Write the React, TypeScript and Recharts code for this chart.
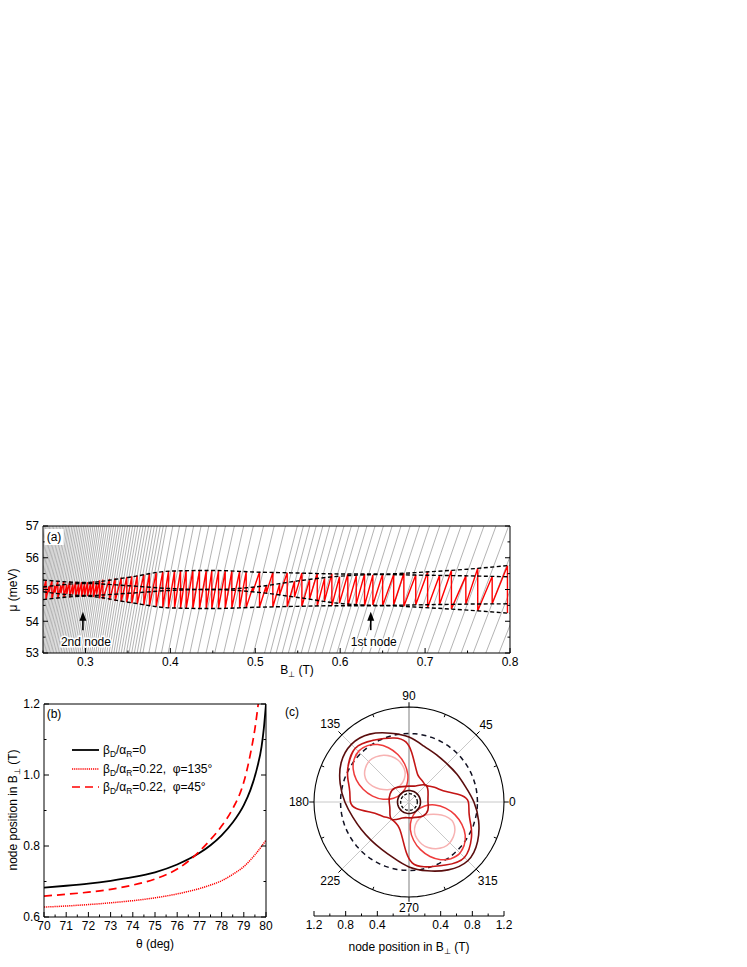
import React from 'react'
import { LineChart, Line, XAxis, YAxis, ReferenceLine, ReferenceDot } from 'recharts'

const FONT = '"Liberation Sans", Arial, Helvetica, sans-serif'

// ---------- panel (a): chemical potential vs perpendicular field ----------
// B (T) at which each Landau level (grey fan line through the origin) crosses mu = 55 meV
const levelB = [
  0.8167, 0.8006, 0.7852, 0.7704, 0.7561, 0.7424, 0.7291, 0.7163, 0.704, 0.692, 0.6805, 0.6693, 0.6585,
  0.6481, 0.638, 0.6281, 0.6186, 0.6094, 0.6004, 0.5917, 0.5833, 0.575, 0.5671, 0.5593, 0.5517, 0.5444,
  0.5372, 0.5302, 0.5168, 0.504, 0.4919, 0.4803, 0.4693, 0.4587, 0.4486, 0.439, 0.4297, 0.4209, 0.4124,
  0.4042, 0.3964, 0.3888, 0.3815, 0.378, 0.3745, 0.3711, 0.3678, 0.3645, 0.3613, 0.3581,
  0.355, 0.3519, 0.3489, 0.346, 0.3431, 0.3402, 0.3374, 0.3346, 0.3319, 0.3292, 0.3266, 0.324, 0.3214,
  0.3189, 0.3165, 0.314, 0.3116, 0.3093, 0.3069, 0.3046, 0.3024, 0.3002, 0.298, 0.2958, 0.2937, 0.2916,
  0.2895, 0.2875, 0.2855, 0.2835, 0.2815, 0.2796, 0.2777, 0.2758, 0.274, 0.2721, 0.2703, 0.2686, 0.2668,
  0.2651, 0.2634, 0.2617, 0.26, 0.2584, 0.2567, 0.2551, 0.2535, 0.252, 0.2504, 0.2489, 0.2474, 0.2459,
  0.2444, 0.243,
]
const levelMu = [53, 55, 57]

// sawtooth of mu: B of each drop, value just before and just after the drop
const muStart = { b: 0.25, mu: 54.95 }
const toothB = [
  0.2535, 0.257, 0.2605, 0.264, 0.2675, 0.271, 0.2745, 0.278, 0.2815, 0.285, 0.2885, 0.292, 0.2955, 0.299,
  0.3025, 0.306, 0.3095, 0.313, 0.3165,
  0.3205, 0.3283, 0.335, 0.3421, 0.3487, 0.3546, 0.3609, 0.3688, 0.3754, 0.3833, 0.3911, 0.3978, 0.4049,
  0.412, 0.4186, 0.4265, 0.4343, 0.4422, 0.4488, 0.4567, 0.4646, 0.4724, 0.4815,
  0.4893, 0.4971, 0.505, 0.5129, 0.5207, 0.5286, 0.5376, 0.5462, 0.5549, 0.5639, 0.573, 0.5816, 0.5902,
  0.5992, 0.609, 0.6189, 0.6287, 0.6385, 0.65, 0.663, 0.675, 0.689, 0.703, 0.717, 0.731, 0.748, 0.762,
  0.779, 0.797,
]
const toothHigh = [
  55.29, 55.1, 55.28, 55.12, 55.27, 55.13, 55.26, 55.15, 55.25, 55.16, 55.24, 55.18, 55.23, 55.2, 55.23,
  55.2, 55.26, 55.18, 55.29,
  55.31, 55.33, 55.35, 55.37, 55.39, 55.41, 55.44, 55.47, 55.5, 55.53, 55.56, 55.58, 55.59, 55.6, 55.6,
  55.6, 55.6, 55.59, 55.59, 55.59, 55.58, 55.58, 55.57,
  55.56, 55.07, 55.55, 55.12, 55.54, 55.17, 55.53, 55.26, 55.52, 55.31, 55.51, 55.35, 55.5, 55.4, 55.49,
  55.43, 55.49, 55.46, 55.49, 55.47, 55.51, 55.46, 55.55, 55.45, 55.6, 55.43, 55.67, 55.41, 55.75,
]
const toothLow = [
  54.69, 54.92, 54.7, 54.9, 54.72, 54.88, 54.73, 54.86, 54.75, 54.85, 54.77, 54.83, 54.78, 54.81, 54.79,
  54.82, 54.76, 54.84, 54.72,
  54.7, 54.67, 54.64, 54.62, 54.6, 54.57, 54.54, 54.51, 54.48, 54.46, 54.44, 54.42, 54.41, 54.41, 54.4,
  54.4, 54.4, 54.4, 54.4, 54.41, 54.41, 54.42, 54.42,
  54.43, 54.93, 54.44, 54.88, 54.45, 54.83, 54.46, 54.76, 54.47, 54.7, 54.48, 54.64, 54.49, 54.57, 54.49,
  54.53, 54.49, 54.51, 54.49, 54.52, 54.47, 54.52, 54.43, 54.53, 54.39, 54.54, 54.33, 54.55, 54.26,
]

// beating envelopes (dashed)
const envB = [0.25, 0.3, 0.35, 0.4, 0.45, 0.5, 0.55, 0.6, 0.65, 0.7, 0.75, 0.8]
const envOuterHigh = [55.3, 55.22, 55.38, 55.58, 55.6, 55.55, 55.52, 55.49, 55.49, 55.55, 55.64, 55.76]
const envInnerHigh = [55.08, 55.19, 55.12, 55.03, 55.0, 55.08, 55.27, 55.42, 55.47, 55.45, 55.43, 55.4]
const envInnerLow = [54.93, 54.81, 54.88, 54.97, 55.0, 54.92, 54.75, 54.56, 54.5, 54.52, 54.54, 54.55]
const envOuterLow = [54.68, 54.79, 54.6, 54.42, 54.4, 54.44, 54.47, 54.49, 54.49, 54.43, 54.35, 54.25]

const nodeB = [0.297, 0.636]
const nodeText = ['2nd node', '1st node']
const nodeArrowMu = [53.72, 54.3]
const nodeTextMu = 53.35

const aXMajor = [0.3, 0.4, 0.5, 0.6, 0.7, 0.8]
const aXMinor = [0.25, 0.35, 0.45, 0.55, 0.65, 0.75]
const aYMajor = [53, 54, 55, 56, 57]
const aYMinor = [53.5, 54.5, 55.5, 56.5]

// ---------- panel (b): node position vs tilt angle ----------
const thetaBlack = [70, 71, 72, 73, 74, 75, 76, 77, 77.5, 78, 78.5, 79, 79.3, 79.6, 79.8, 79.9, 80]
const nodeBlack = [0.683, 0.688, 0.694, 0.702, 0.712, 0.726, 0.748, 0.78, 0.802, 0.83, 0.866, 0.915, 0.958, 1.02, 1.08, 1.13, 1.2]
const theta45 = [70, 71, 72, 73, 74, 75, 76, 76.5, 77, 77.5, 78, 78.5, 79, 79.3, 79.5, 79.65]
const node45 = [0.659, 0.664, 0.67, 0.678, 0.69, 0.707, 0.735, 0.757, 0.785, 0.818, 0.856, 0.905, 0.98, 1.06, 1.13, 1.2]
const theta135 = [70, 71, 72, 73, 74, 75, 76, 77, 77.5, 78, 78.5, 79, 79.5, 80]
const node135 = [0.628, 0.631, 0.635, 0.64, 0.646, 0.654, 0.665, 0.68, 0.69, 0.702, 0.72, 0.742, 0.775, 0.816]

const legendRatio = ['0', '0.22', '0.22']
const legendPhi = ['', '135°', '45°']

const bXMajor = [70, 71, 72, 73, 74, 75, 76, 77, 78, 79, 80]
const bXMinor = [70.5, 71.5, 72.5, 73.5, 74.5, 75.5, 76.5, 77.5, 78.5, 79.5]
const bYMajor = [0.6, 0.8, 1.0, 1.2]
const bYMinor = [0.7, 0.9, 1.1]

// ---------- panel (c): polar map of node position ----------
const brownAngle = [45, 60, 75, 90, 105, 120, 135, 150, 165, 180, 195, 210, 225, 240, 255, 270, 285, 300, 315, 330, 345, 0, 15, 30]
const brownR = [0.68, 0.69, 0.73, 0.82, 0.9, 0.99, 1.03, 0.99, 0.9, 0.81, 0.735, 0.695, 0.68, 0.69, 0.735, 0.82, 0.9, 0.99, 1.05, 1.0, 0.91, 0.82, 0.74, 0.7]

const peanutAngle = [135, 150, 160, 170, 180, 187, 195, 202, 210, 217, 225, 235, 245, 252, 260, 267, 273, 283, 300, 315, 330, 340, 350, 0, 7, 15, 22, 30, 37, 45, 55, 65, 72, 80, 87, 93, 103, 120]
const peanutR = [0.96, 0.89, 0.82, 0.76, 0.74, 0.67, 0.5, 0.42, 0.37, 0.33, 0.31, 0.31, 0.33, 0.37, 0.47, 0.64, 0.77, 0.84, 0.92, 0.99, 0.91, 0.83, 0.77, 0.75, 0.67, 0.5, 0.42, 0.37, 0.33, 0.3, 0.31, 0.33, 0.36, 0.46, 0.63, 0.76, 0.83, 0.9]

const eyeAngle = [90, 112, 135, 157, 180, 202, 225, 247, 270, 292, 315, 337, 0, 22, 45, 67]
const eyeR = [0.2, 0.21, 0.25, 0.26, 0.25, 0.26, 0.31, 0.22, 0.2, 0.21, 0.25, 0.26, 0.24, 0.26, 0.3, 0.22]

// lobes given as (x, y) components in T
const redLobeUpper = [
  [-0.629, 0.649], [-0.524, 0.712], [-0.395, 0.725], [-0.26, 0.685], [-0.141, 0.599], [-0.055, 0.48], [-0.015, 0.345], [-0.028, 0.216],
  [-0.091, 0.111], [-0.196, 0.048], [-0.325, 0.035], [-0.46, 0.075], [-0.579, 0.161], [-0.665, 0.28], [-0.705, 0.415], [-0.692, 0.544],
]
const redLobeLower = [
  [0.635, -0.655], [0.53, -0.716], [0.4, -0.728], [0.265, -0.688], [0.145, -0.602], [0.058, -0.483], [0.017, -0.347], [0.03, -0.218],
  [0.093, -0.113], [0.198, -0.05], [0.327, -0.037], [0.462, -0.077], [0.582, -0.163], [0.668, -0.283], [0.71, -0.418], [0.697, -0.548],
]
const pinkLobeUpper = [
  [-0.32, 0.59], [-0.22, 0.575], [-0.14, 0.53], [-0.08, 0.46], [-0.05, 0.38], [-0.06, 0.29], [-0.11, 0.21], [-0.18, 0.17],
  [-0.27, 0.155], [-0.37, 0.165], [-0.46, 0.2], [-0.53, 0.26], [-0.56, 0.34], [-0.55, 0.43], [-0.5, 0.52], [-0.42, 0.57],
]
const pinkLobeLower = [
  [0.34, -0.59], [0.44, -0.57], [0.51, -0.52], [0.56, -0.44], [0.58, -0.35], [0.56, -0.26], [0.5, -0.2], [0.41, -0.165],
  [0.31, -0.155], [0.21, -0.165], [0.13, -0.21], [0.08, -0.29], [0.07, -0.38], [0.1, -0.46], [0.16, -0.53], [0.24, -0.575],
]

const ringOuter = 1.2
const ringIsotropic = 0.865
const ringCenterDashed = 0.105
const ringCenterSolid = 0.145

const gridAngles = [0, 45, 90, 135, 180, 225, 270, 315]
const minorAngles = [22.5, 67.5, 112.5, 157.5, 202.5, 247.5, 292.5, 337.5]
const cXMajor = [-1.2, -0.8, -0.4, 0.4, 0.8, 1.2]
const cXMinor = [-1.0, -0.6, -0.2, 0, 0.2, 0.6, 1.0]

// ---------- helpers ----------
const rad = (a: number) => (a * Math.PI) / 180
const ringSteps = Array.from({ length: 73 }, (_, i) => i * 5)
const ring = (r: number) => ringSteps.map((a) => ({ x: r * Math.cos(rad(a)), y: r * Math.sin(rad(a)) }))
// wrap one point on each side so the spline closes smoothly
const wrap = (pts: { x: number; y: number }[]) => [pts[pts.length - 1], ...pts, pts[0], pts[1]]
const polarPts = (angles: number[], radii: number[]) =>
  wrap(angles.map((a, i) => ({ x: radii[i] * Math.cos(rad(a)), y: radii[i] * Math.sin(rad(a)) })))
const xyPts = (list: number[][]) => wrap(list.map(([x, y]) => ({ x, y })))
const sortNum = (a: number[]) => [...a].sort((p, q) => p - q)

type Side = 'bottom' | 'top' | 'left' | 'right'
const tickText = { fontFamily: FONT, fontSize: 12, fill: '#000' }

function edgeTick(side: Side, major: number[], fmt?: (v: number) => string) {
  return (p: any) => {
    const v = Number(p.payload.value)
    const isMajor = major.some((m) => Math.abs(m - v) < 1e-6)
    const len = isMajor ? 5 : 2.5
    const { x, y } = p
    let line: React.ReactNode = null
    let label: React.ReactNode = null
    if (side === 'bottom') {
      line = <line x1={x} y1={y} x2={x} y2={y - len} stroke="#000" />
      if (fmt && isMajor)
        label = <text x={x} y={y + 4} dy="0.78em" textAnchor="middle" {...tickText}>{fmt(v)}</text>
    } else if (side === 'top') {
      line = <line x1={x} y1={y} x2={x} y2={y + len} stroke="#000" />
    } else if (side === 'left') {
      line = <line x1={x} y1={y} x2={x + len} y2={y} stroke="#000" />
      if (fmt && isMajor)
        label = <text x={x - 4} y={y} dy="0.36em" textAnchor="end" {...tickText}>{fmt(v)}</text>
    } else {
      line = <line x1={x} y1={y} x2={x - len} y2={y} stroke="#000" />
    }
    return <g>{line}{label}</g>
  }
}

const axisLine = { stroke: '#000', strokeWidth: 1 }

// axes get a 1px box (a zero-sized axis is not drawn); margins are reduced by 1 to compensate
function Frame({ xDom, yDom, xMajor, xMinor, yMajor, yMinor, xFmt, yFmt }: any) {
  const xt = sortNum([...xMajor, ...xMinor])
  const yt = sortNum([...yMajor, ...yMinor])
  return [
    <XAxis key="xb" dataKey="x" type="number" domain={xDom} allowDataOverflow ticks={xt} interval={0} height={1}
      tickSize={0} tickMargin={0} tickLine={false} axisLine={axisLine} tick={edgeTick('bottom', xMajor, xFmt)} />,
    <XAxis key="xt" xAxisId="top" orientation="top" type="number" domain={xDom} allowDataOverflow ticks={xt} interval={0}
      height={1} tickSize={0} tickMargin={0} tickLine={false} axisLine={axisLine} tick={edgeTick('top', xMajor)} />,
    <YAxis key="yl" type="number" domain={yDom} allowDataOverflow ticks={yt} interval={0} width={1}
      tickSize={0} tickMargin={0} tickLine={false} axisLine={axisLine} tick={edgeTick('left', yMajor, yFmt)} />,
    <YAxis key="yr" yAxisId="right" orientation="right" type="number" domain={yDom} allowDataOverflow ticks={yt}
      interval={0} width={1} tickSize={0} tickMargin={0} tickLine={false} axisLine={axisLine} tick={edgeTick('right', yMajor)} />,
  ]
}

function PanelA() {
  const grey: any[] = []
  levelB.forEach((b) => {
    grey.push({ x: (b * levelMu[0]) / levelMu[1], y: levelMu[0] })
    grey.push({ x: (b * levelMu[2]) / levelMu[1], y: levelMu[2] })
    grey.push({ x: (b * levelMu[2]) / levelMu[1], y: null })
  })
  const red: any[] = [{ x: muStart.b, y: muStart.mu }]
  toothB.forEach((b, i) => {
    red.push({ x: b, y: toothHigh[i] })
    red.push({ x: b, y: toothLow[i] })
  })
  const env = (vals: number[]) => envB.map((b, i) => ({ x: b, y: vals[i] }))
  const dash = { stroke: '#000', strokeWidth: 1.4, strokeDasharray: '4 2.5', dot: false, activeDot: false, isAnimationActive: false } as const
  return (
    <LineChart width={530} height={175} margin={{ top: 15, right: 19, bottom: 31, left: 42 }}>
      {Frame({ xDom: [0.25, 0.8], yDom: [53, 57], xMajor: aXMajor, xMinor: aXMinor, yMajor: aYMajor, yMinor: aYMinor,
        xFmt: (v: number) => v.toFixed(1), yFmt: (v: number) => String(v) })}
      <Line data={grey} dataKey="y" type="linear" stroke="#aaaaaa" strokeWidth={0.9} dot={false} activeDot={false} isAnimationActive={false} />
      <Line data={red} dataKey="y" type="linear" stroke="#ff0000" strokeWidth={1.4} dot={false} activeDot={false} isAnimationActive={false} />
      <Line data={env(envOuterHigh)} dataKey="y" type="monotone" {...dash} />
      <Line data={env(envInnerHigh)} dataKey="y" type="monotone" {...dash} />
      <Line data={env(envInnerLow)} dataKey="y" type="monotone" {...dash} />
      <Line data={env(envOuterLow)} dataKey="y" type="monotone" {...dash} />
      {nodeB.map((b, i) => (
        <ReferenceLine key={'s' + i} segment={[{ x: b, y: nodeArrowMu[0] }, { x: b, y: nodeArrowMu[1] - 0.2 }]}
          stroke="#000" strokeWidth={1.6} ifOverflow="visible" />
      ))}
      {nodeB.map((b, i) => (
        <ReferenceDot key={'h' + i} x={b} y={nodeArrowMu[1]} ifOverflow="visible"
          shape={(p: any) => <polygon points={`${p.cx},${p.cy} ${p.cx - 3.5},${p.cy + 9} ${p.cx + 3.5},${p.cy + 9}`} fill="#000" />} />
      ))}
      {nodeB.map((b, i) => (
        <ReferenceDot key={'t' + i} x={b} y={nodeTextMu} ifOverflow="visible"
          shape={(p: any) => (
            <text x={p.cx + 3} y={p.cy} dy="0.36em" textAnchor="middle" fontFamily={FONT} fontSize={12} fill="#000"
              stroke="#fff" strokeWidth={3} paintOrder="stroke">{nodeText[i]}</text>
          )} />
      ))}
    </LineChart>
  )
}

function PanelB() {
  const pts = (t: number[], v: number[]) => t.map((x, i) => ({ x, y: v[i] }))
  return (
    <LineChart width={290} height={277} margin={{ top: 13, right: 23, bottom: 49, left: 43 }}>
      {Frame({ xDom: [70, 80], yDom: [0.6, 1.2], xMajor: bXMajor, xMinor: bXMinor, yMajor: bYMajor, yMinor: bYMinor,
        xFmt: (v: number) => String(v), yFmt: (v: number) => v.toFixed(1) })}
      <Line data={pts(theta135, node135)} dataKey="y" type="monotone" stroke="#ff0000" strokeWidth={1.5} strokeDasharray="1.2 0.9"
        dot={false} activeDot={false} isAnimationActive={false} />
      <Line data={pts(thetaBlack, nodeBlack)} dataKey="y" type="monotone" stroke="#000" strokeWidth={1.8}
        dot={false} activeDot={false} isAnimationActive={false} />
      <Line data={pts(theta45, node45)} dataKey="y" type="monotone" stroke="#ff0000" strokeWidth={1.7} strokeDasharray="8 5"
        dot={false} activeDot={false} isAnimationActive={false} />
    </LineChart>
  )
}

function PanelC() {
  const smooth = { dot: false, activeDot: false, isAnimationActive: false, type: 'natural' } as const
  const labelShape = (a: number) => (p: any) => {
    const c = Math.cos(rad(a))
    const s = Math.sin(rad(a))
    const w = 6.7 * String(a).length
    const d = 5 + Math.abs(c) * (w / 2) + Math.abs(s) * 6
    return (
      <text x={p.cx + c * d} y={p.cy - s * d} dy="0.36em" textAnchor="middle" fontFamily={FONT} fontSize={12} fill="#000">
        {a}
      </text>
    )
  }
  const ct = sortNum([...cXMajor, ...cXMinor])
  return (
    <LineChart width={262} height={287} margin={{ top: 27, right: 43, bottom: 50, left: 29 }}>
      <XAxis dataKey="x" type="number" domain={[-1.2, 1.2]} ticks={ct} interval={0} height={1} tickSize={0} tickMargin={0}
        tickLine={false} axisLine={axisLine} tick={edgeTick('bottom', cXMajor, (v) => Math.abs(v).toFixed(1))} />
      <YAxis type="number" domain={[-1.44, 1.2]} hide width={0} />
      {gridAngles.map((a) => (
        <ReferenceLine key={'g' + a} ifOverflow="visible"
          segment={[{ x: 0, y: 0 }, { x: ringOuter * Math.cos(rad(a)), y: ringOuter * Math.sin(rad(a)) }]}
          stroke={a % 180 === 90 ? '#b8b8b8' : '#c8c8c8'} strokeWidth={a % 180 === 90 ? 1.8 : 1} />
      ))}
      {gridAngles.map((a) => (
        <ReferenceLine key={'o' + a} ifOverflow="visible"
          segment={[{ x: ringOuter * Math.cos(rad(a)), y: ringOuter * Math.sin(rad(a)) },
            { x: (ringOuter + 0.06) * Math.cos(rad(a)), y: (ringOuter + 0.06) * Math.sin(rad(a)) }]}
          stroke="#000" strokeWidth={1} />
      ))}
      {minorAngles.map((a) => (
        <ReferenceLine key={'m' + a} ifOverflow="visible"
          segment={[{ x: ringOuter * Math.cos(rad(a)), y: ringOuter * Math.sin(rad(a)) },
            { x: (ringOuter - 0.04) * Math.cos(rad(a)), y: (ringOuter - 0.04) * Math.sin(rad(a)) }]}
          stroke="#000" strokeWidth={1} />
      ))}
      <Line data={ring(ringOuter)} dataKey="y" stroke="#000" strokeWidth={1.1} {...smooth} type="linear" />
      <Line data={ring(ringIsotropic)} dataKey="y" stroke="#111122" strokeWidth={1.5} strokeDasharray="5 4" {...smooth} type="linear" />
      <Line data={xyPts(pinkLobeUpper)} dataKey="y" stroke="#f7b2b2" strokeWidth={1.5} {...smooth} />
      <Line data={xyPts(pinkLobeLower)} dataKey="y" stroke="#f7b2b2" strokeWidth={1.5} {...smooth} />
      <Line data={xyPts(redLobeUpper)} dataKey="y" stroke="#ee3b3b" strokeWidth={1.5} {...smooth} />
      <Line data={xyPts(redLobeLower)} dataKey="y" stroke="#ee3b3b" strokeWidth={1.5} {...smooth} />
      <Line data={polarPts(peanutAngle, peanutR)} dataKey="y" stroke="#c41616" strokeWidth={1.6} {...smooth} />
      <Line data={polarPts(eyeAngle, eyeR)} dataKey="y" stroke="#b01010" strokeWidth={1.6} {...smooth} />
      <Line data={polarPts(brownAngle, brownR)} dataKey="y" stroke="#5a0d0d" strokeWidth={1.6} {...smooth} />
      <Line data={ring(ringCenterSolid)} dataKey="y" stroke="#4a0a0a" strokeWidth={1.6} {...smooth} type="linear" />
      <Line data={ring(ringCenterDashed)} dataKey="y" stroke="#000" strokeWidth={1.3} strokeDasharray="3 2" {...smooth} type="linear" />
      {gridAngles.map((a) => (
        <ReferenceDot key={'l' + a} x={ringOuter * Math.cos(rad(a))} y={ringOuter * Math.sin(rad(a))} ifOverflow="visible"
          shape={labelShape(a)} />
      ))}
    </LineChart>
  )
}

const Txt = ({ x, y, rot, bg, children }: any) => (
  <div
    style={{
      position: 'absolute', left: x, top: y, whiteSpace: 'nowrap', fontFamily: FONT, fontSize: 12, lineHeight: 1,
      color: '#000', background: bg ? '#fff' : 'transparent', padding: bg ? '2px 2px' : 0,
      transform: `translate(-50%, -50%)${rot ? ` rotate(${rot}deg)` : ''}`,
    }}
  >
    {children}
  </div>
)

const Sub = ({ children }: any) => (
  <span style={{ fontSize: '0.7em', position: 'relative', top: '0.35em' }}>{children}</span>
)

export default function App() {
  return (
    <div style={{ position: 'absolute', left: 0, top: 0, width: 747, height: 967, background: '#fff' }}>
      <div style={{ position: 'absolute', left: 0, top: 510 }}><PanelA /></div>
      <div style={{ position: 'absolute', left: 0, top: 690 }}><PanelB /></div>
      <div style={{ position: 'absolute', left: 285, top: 680 }}><PanelC /></div>

      <Txt x={54} y={537} bg>(a)</Txt>
      <Txt x={54} y={714}>(b)</Txt>
      <Txt x={292} y={712}>(c)</Txt>

      <Txt x={13} y={590} rot={-90}>μ (meV)</Txt>
      <Txt x={297} y={670}>B<Sub>⊥</Sub> (T)</Txt>
      <Txt x={13} y={810} rot={-90}>node position in B<Sub>⊥</Sub> (T)</Txt>
      <Txt x={155} y={944}>θ (deg)</Txt>
      <Txt x={409} y={947}>node position in B<Sub>⊥</Sub> (T)</Txt>

      <div style={{ position: 'absolute', left: 72, top: 741, fontFamily: FONT, fontSize: 12, color: '#000' }}>
        {legendRatio.map((r, i) => (
          <div key={i} style={{ display: 'flex', alignItems: 'center', height: 18.5, whiteSpace: 'nowrap' }}>
            <svg width={27} height={6}>
              <line x1={0} y1={3} x2={27} y2={3} stroke={i === 0 ? '#000' : '#ff0000'}
                strokeWidth={i === 0 ? 1.8 : 1.6} strokeDasharray={i === 1 ? '1.2 0.9' : i === 2 ? '8 5' : undefined} />
            </svg>
            <span style={{ marginLeft: 4 }}>
              β<Sub>D</Sub>/α<Sub>R</Sub>={r}{legendPhi[i] ? <>,&nbsp; φ={legendPhi[i]}</> : null}
            </span>
          </div>
        ))}
      </div>
    </div>
  )
}
